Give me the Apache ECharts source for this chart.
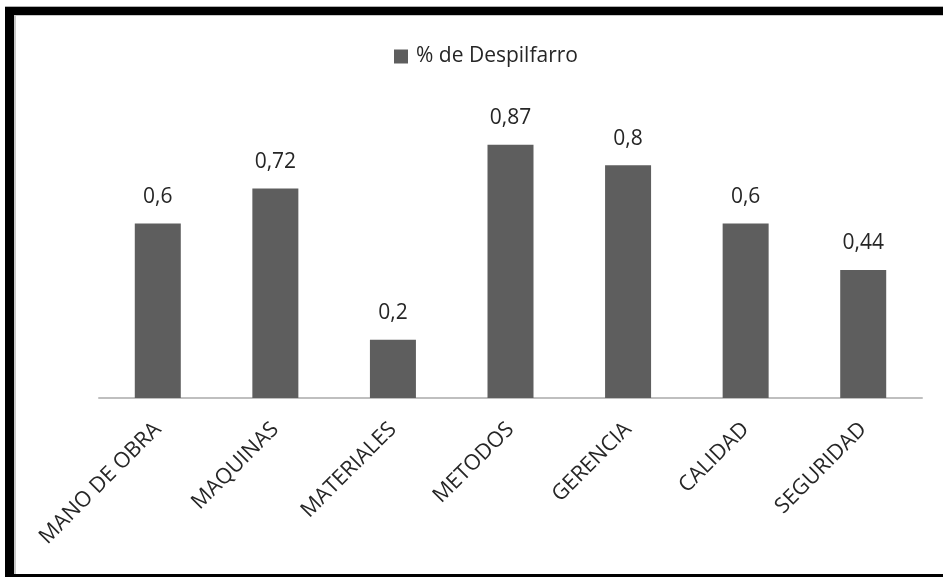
<!DOCTYPE html>
<html>
<head>
<meta charset="utf-8">
<script src="https://cdn.jsdelivr.net/npm/echarts@6/dist/echarts.min.js"></script>
<style>
  html, body { margin: 0; padding: 0; background: #fff; }
  #wrap { position: relative; width: 943px; height: 580px; overflow: hidden; background: #fff; }
  #frame {
    position: absolute; left: 5px; top: 7px; width: 960px; height: 570px;
    box-sizing: border-box;
    border-left: 9px solid #000; border-top: 8px solid #000; border-bottom: 3px solid #000;
    box-shadow: inset 2px 1px 0 #c8c8c8, 0 -1px 0 #b0b0b0;
  }
  #chart { position: absolute; left: 0; top: 0; width: 943px; height: 580px; }
</style>
</head>
<body>
<div id="wrap">
  <div id="frame"></div>
  <div id="chart"></div>
</div>
<script>
// Categories and values for the waste percentage chart
const categories = ['MANO DE OBRA', 'MAQUINAS', 'MATERIALES', 'METODOS', 'GERENCIA', 'CALIDAD', 'SEGURIDAD'];
const despilfarro = [0.6, 0.72, 0.2, 0.87, 0.8, 0.6, 0.44];
const seriesName = '% de Despilfarro';

const FONT = '"Open Sans", Lato, sans-serif';
const TEXT = '#262626';

const chart = echarts.init(document.getElementById('chart'), null, { renderer: 'canvas' });

chart.setOption({
  animation: false,
  backgroundColor: 'transparent',
  legend: {
    data: [seriesName],
    left: 389,
    top: 41,
    icon: 'rect',
    itemWidth: 14,
    itemHeight: 14,
    itemGap: 10,
    textStyle: { fontFamily: FONT, fontSize: 21, color: TEXT, padding: [0, 0, 0, 3] }
  },
  grid: { left: 99, right: 21, top: 107, bottom: 182, containLabel: false },
  xAxis: {
    type: 'category',
    data: categories,
    axisLine: { show: true, lineStyle: { color: '#bfbfbf', width: 2 } },
    axisTick: { show: false },
    axisLabel: {
      rotate: 45,
      margin: 28,
      interval: 0,
      fontFamily: FONT,
      fontSize: 21.5,
      color: TEXT
    }
  },
  yAxis: {
    type: 'value',
    min: 0,
    max: 1,
    show: false
  },
  series: [{
    name: seriesName,
    type: 'bar',
    data: despilfarro,
    barWidth: 46,
    itemStyle: { color: '#5e5e5e' },
    label: {
      show: true,
      position: 'top',
      distance: 16,
      fontFamily: FONT,
      fontSize: 21,
      color: TEXT,
      formatter: p => String(p.value).replace('.', ',')
    }
  }]
});
</script>
</body>
</html>
